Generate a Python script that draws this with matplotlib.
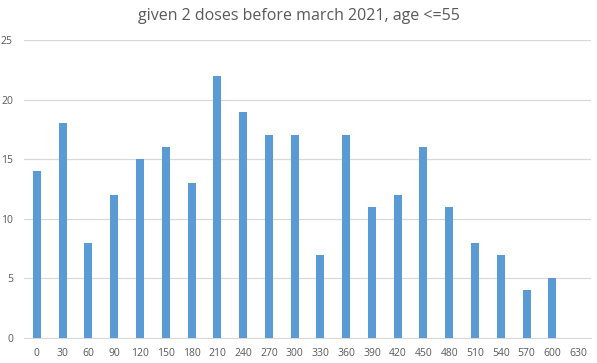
import matplotlib
matplotlib.use("Agg")
import matplotlib.pyplot as plt

categories = [str(c) for c in range(0, 631, 30)]
values = [14, 18, 8, 12, 15, 16, 13, 22, 19, 17, 17, 7, 17, 11, 12, 16, 11, 8, 7, 4, 5, 0]
yticks = [0, 5, 10, 15, 20, 25]
title = "given 2 doses before march 2021, age <=55"

plt.rcParams['font.family'] = ['Open Sans', 'DejaVu Sans']

fig = plt.figure(figsize=(5.97, 3.63), dpi=100)
ax = fig.add_axes([24/597, 1 - 338/363, (591-24)/597, (338-40)/363])

x = list(range(len(categories)))
ax.bar(x, values, width=0.31, color='#5b9bd5', zorder=3)
ax.set_xlim(-0.5, len(categories) - 0.5)
ax.set_ylim(0, 25)
ax.set_yticks(yticks)
ax.set_xticks(x)
ax.set_xticklabels(categories)
ax.yaxis.grid(True, color='#d9d9d9', linewidth=0.9, zorder=0)
for s in ['top', 'right', 'left']:
    ax.spines[s].set_visible(False)
ax.spines['bottom'].set_color('#d9d9d9')
ax.tick_params(axis='both', length=0, labelsize=7.5, labelcolor='#595959')
ax.tick_params(axis='x', pad=7)
ax.tick_params(axis='y', pad=8)
fig.text(0.5, 1 - 16/363, title, ha='center', va='center', fontsize=11.5, color='#595959')

fig.savefig('out.png', dpi=100)
